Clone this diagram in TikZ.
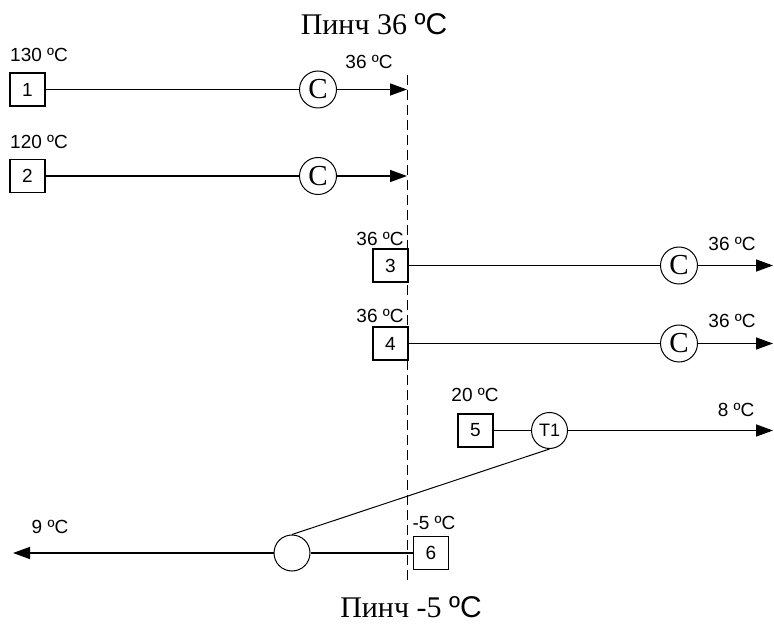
\documentclass[tikz,border=0pt]{standalone}
\usepackage{fontspec}
\setmainfont{Liberation Serif}
\setsansfont{Liberation Sans}
\usetikzlibrary{arrows.meta,positioning}

\begin{document}
\begin{tikzpicture}[x=1pt,y=-1pt,
		stream/.style={draw, rectangle, line width=1.4pt, minimum width=35pt, minimum height=33pt, inner sep=0pt, font=\sffamily\fontsize{19}{22}\selectfont},
		cooler/.style={draw, circle, line width=1pt, minimum size=37pt, inner sep=0pt, font=\rmfamily\fontsize{29}{32}\selectfont},
		exch/.style={draw, circle, line width=1pt, minimum size=36pt, inner sep=0pt, font=\sffamily\fontsize{18}{20}\selectfont},
		temp/.style={font=\sffamily\fontsize{19}{22}\selectfont, inner sep=0pt},
		pinch/.style={font=\rmfamily\fontsize{30}{33}\selectfont, inner sep=0pt},
		flow/.style={line width=1.5pt},
		hot/.style={line width=1.5pt, -{Triangle[length=17pt,width=12pt]}}]
	\useasboundingbox (0,0) rectangle (774,628);

	% Pinch line
	\coordinate (ptop) at (407,75);
	\coordinate (pbot) at (407,580);
	\draw[line width=1pt, dash pattern=on 10pt off 5pt] (ptop) -- (pbot);
	\node[pinch] (pinchtop) at (374,24) {Пинч 36 {\sffamily ºC}};
	\node[pinch] (pinchbot) at (411,607) {Пинч -5 {\sffamily ºC}};

	% Hot streams above pinch
	\node[stream] (s1) at (27.5,89.5) {1};
	\node[cooler] (c1) at (318,89.5) {C};
	\coordinate (e1) at (407,89.5);
	\node[stream] (s2) at (27.5,176) {2};
	\node[cooler] (c2) at (318,176) {C};
	\coordinate (e2) at (407,176);
	\node[temp, anchor=west] (t1in) at (10,55) {130 ºC};
	\node[temp] (t1out) at (369,62) {36 ºC};
	\node[temp, anchor=west] (t2in) at (10,142) {120 ºC};

	% Hot streams below pinch
	\node[stream] (s3) at (390.5,265.5) {3};
	\node[cooler] (c3) at (679,265.5) {C};
	\coordinate (e3) at (773,265.5);
	\node[stream] (s4) at (390.5,343.5) {4};
	\node[cooler] (c4) at (679,343.5) {C};
	\coordinate (e4) at (773,343.5);
	\node[temp] (t3in) at (380,239) {36 ºC};
	\node[temp] (t3out) at (732,244) {36 ºC};
	\node[temp] (t4in) at (380,316) {36 ºC};
	\node[temp] (t4out) at (732,321) {36 ºC};

	% Stream 5 and 6 with exchanger
	\node[stream] (s5) at (475.5,430.5) {5};
	\node[exch] (x1) at (549.5,430.5) {T1};
	\coordinate (e5) at (773,430.5);
	\node[stream] (s6) at (431,553) {6};
	\node[exch] (x2) at (292,553) {};
	\coordinate (e6) at (13,553);
	\node[temp] (t5in) at (475,395) {20 ºC};
	\node[temp] (t5out) at (736,410) {8 ºC};
	\node[temp] (t6in) at (434,523) {-5 ºC};
	\node[temp] (t6out) at (50,527) {9 ºC};

	% Connections
	\draw[flow] (s1) -- (c1);
	\draw[hot] (c1) -- (e1);
	\draw[flow] (s2) -- (c2);
	\draw[hot] (c2) -- (e2);
	\draw[flow] (s3) -- (c3);
	\draw[hot] (c3) -- (e3);
	\draw[flow] (s4) -- (c4);
	\draw[hot] (c4) -- (e4);
	\draw[flow] (s5) -- (x1);
	\draw[hot] (x1) -- (e5);
	\draw[flow] (s6) -- (x2);
	\draw[hot] (x2) -- (e6);
	\draw[line width=1pt] (x1.south) -- (x2.north);
\end{tikzpicture}
\end{document}
